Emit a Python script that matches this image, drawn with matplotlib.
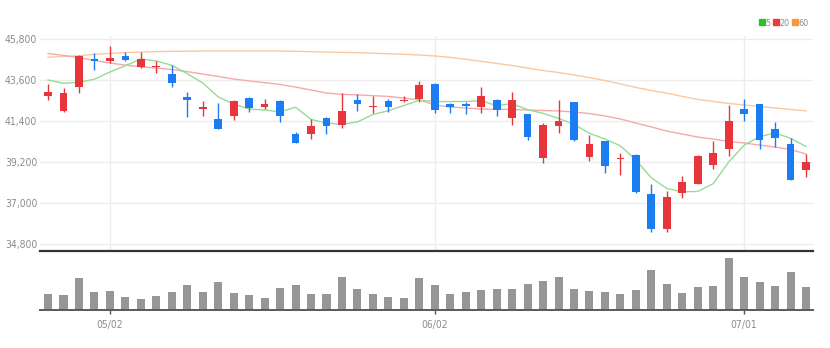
import numpy as np
import matplotlib
matplotlib.use("Agg")
import matplotlib.pyplot as plt
from matplotlib import font_manager
from matplotlib.lines import Line2D

# prefer a narrow face for the axis labels when one is available
installed = {f.name for f in font_manager.fontManager.ttflist}
narrow = [n for n in ['Liberation Sans Narrow', 'DejaVu Sans Condensed'] if n in installed]
plt.rcParams['font.family'] = narrow + ['DejaVu Sans']
if not narrow:
    plt.rcParams['font.stretch'] = 'condensed'

# daily candles (KRW)
dates = ['04/26', '04/27', '04/28', '04/29', '05/02', '05/03', '05/04', '05/06', '05/09', '05/10',
         '05/11', '05/12', '05/13', '05/16', '05/17', '05/18', '05/19', '05/20', '05/23', '05/24',
         '05/25', '05/26', '05/27', '05/30', '05/31', '06/02', '06/03', '06/07', '06/08', '06/09',
         '06/10', '06/13', '06/14', '06/15', '06/16', '06/17', '06/20', '06/21', '06/22', '06/23',
         '06/24', '06/27', '06/28', '06/29', '06/30', '07/01', '07/04', '07/05', '07/06', '07/07']
opens = [42750, 41950, 43250, 44700, 44600, 44900, 44300, 44300, 43900, 42700,
         42050, 41500, 41650, 42650, 42150, 42450, 40700, 40700, 41550, 41200,
         42550, 42150, 42450, 42450, 42600, 43400, 42300, 42300, 42150, 42550,
         41550, 41750, 39400, 41150, 42400, 39450, 40350, 39350, 39550, 37500,
         35600, 37550, 38000, 39050, 39900, 42050, 42300, 40950, 40150, 38750]
highs = [43400, 43150, 44950, 45050, 45400, 45100, 45100, 44600, 44400, 42950,
         42450, 42350, 42550, 42700, 42600, 42500, 40800, 41500, 41600, 42900,
         42850, 42750, 42600, 42750, 43550, 43450, 42350, 42400, 43200, 42600,
         42950, 41800, 41300, 42550, 42400, 40650, 40350, 39700, 39650, 38000,
         37650, 38450, 39550, 40350, 42250, 42600, 42300, 41350, 40500, 39650]
lows = [42550, 41900, 42900, 44150, 44500, 44600, 44250, 43950, 43250, 41600,
        41650, 40950, 41450, 41900, 42050, 41350, 40200, 40450, 40700, 41050,
        41950, 41850, 41900, 42400, 42400, 41850, 41850, 41800, 41850, 41650,
        41200, 40400, 39150, 40750, 40300, 39250, 38600, 38500, 37550, 35450,
        35450, 37250, 38000, 38800, 39500, 41400, 39900, 40000, 38250, 38400]
closes = [42950, 42900, 44900, 44600, 44800, 44650, 44700, 44350, 43450, 42550,
          42150, 40950, 42450, 42100, 42300, 41650, 40200, 41150, 41150, 41950,
          42300, 42200, 42150, 42550, 43350, 42000, 42150, 42200, 42750, 42000,
          42550, 40550, 41200, 41400, 40400, 40150, 39000, 39400, 37600, 35600,
          37300, 38100, 39500, 39700, 41400, 41800, 40400, 40500, 38250, 39200]
volumes = [160, 150, 317, 183, 190, 133, 110, 143, 183, 250,
           177, 283, 170, 153, 120, 217, 250, 160, 160, 327,
           207, 160, 133, 123, 317, 250, 160, 183, 200, 207,
           207, 257, 287, 327, 207, 190, 183, 160, 200, 397,
           257, 173, 233, 240, 523, 333, 280, 237, 380, 230]

# moving averages
ma5 = [43600, 43420, 43480, 43640, 44030, 44370, 44730, 44620, 44390, 43940,
       43440, 42690, 42310, 42040, 41990, 41890, 42140, 41480, 41290, 41220,
       41350, 41750, 41950, 42230, 42510, 42450, 42440, 42450, 42490, 42220,
       42330, 42010, 41810, 41540, 41220, 40740, 40430, 40070, 39310, 38350,
       37780, 37600, 37620, 38040, 39200, 40100, 40560, 40760, 40470, 40030]
ma20 = [45020, 44920, 44800, 44650, 44510, 44400, 44310, 44240, 44160, 44050,
        43920, 43790, 43650, 43550, 43460, 43360, 43220, 43060, 42900, 42830,
        42800, 42760, 42720, 42630, 42530, 42260, 42150, 42100, 42040, 42030,
        42020, 41990, 41960, 41940, 41880, 41800, 41670, 41510, 41290, 41080,
        40860, 40700, 40540, 40430, 40300, 40220, 40110, 40000, 39870, 39630]
ma60 = [44820, 44860, 44900, 44980, 45030, 45070, 45100, 45120, 45140, 45145,
        45155, 45155, 45155, 45155, 45155, 45155, 45140, 45120, 45100, 45085,
        45065, 45040, 45010, 44980, 44940, 44890, 44810, 44710, 44600, 44490,
        44380, 44240, 44110, 44000, 43870, 43730, 43570, 43390, 43200, 43040,
        42890, 42720, 42560, 42450, 42340, 42260, 42180, 42100, 42020, 41940]

price_ticks = [34800, 37000, 39200, 41400, 43600, 45800]
tick_dates = ['05/02', '06/02', '07/01']

UP = '#e8353b'
DOWN = '#1c7cf2'
GRID = '#ededed'
LABEL = '#8c8c8c'

x = np.arange(len(dates))
o = np.array(opens)
c = np.array(closes)
colors = [UP if cc >= oo else DOWN for oo, cc in zip(o, c)]
body_low = np.minimum(o, c)
body_h = np.maximum(np.abs(c - o), 60)
xticks = [dates.index(d) for d in tick_dates]

fig = plt.figure(figsize=(8.3, 3.48), dpi=100)
ax = fig.add_axes([40 / 830, 97.5 / 348, 773 / 830, 214.5 / 348])
axv = fig.add_axes([40 / 830, 38 / 348, 773 / 830, 55 / 348])

# price panel
for t in price_ticks:
    ax.axhline(t, color=GRID, lw=1.0, zorder=0)
for xt in xticks:
    ax.axvline(xt, color=GRID, lw=1.0, zorder=0)

ax.plot(x, ma60, color='#fac9a0', lw=1.0, zorder=1)
ax.plot(x, ma20, color='#f6a9ac', lw=1.0, zorder=1)
ax.plot(x, ma5, color='#97db97', lw=1.0, zorder=1)

ax.vlines(x, lows, highs, colors=colors, lw=1.0, zorder=2)
ax.bar(x, body_h, bottom=body_low, width=0.5, color=colors, zorder=3)

ax.set_xlim(-0.52, 49.45)
ax.set_ylim(34451, 45961)
ax.set_yticks(price_ticks)
ax.set_yticklabels([f"{t:,}" for t in price_ticks])
ax.set_xticks([])
ax.tick_params(axis='y', length=0, pad=2, labelsize=7.5, labelcolor=LABEL)
for s in ['top', 'right', 'left']:
    ax.spines[s].set_visible(False)
ax.spines['bottom'].set_color('#333333')
ax.spines['bottom'].set_linewidth(1.6)

# volume panel
axv.bar(x, volumes, width=0.52, color='#969696', zorder=2)
axv.set_xlim(-0.52, 49.45)
axv.set_ylim(0, 550)
axv.set_yticks([])
axv.set_xticks(xticks)
axv.set_xticklabels(tick_dates)
axv.tick_params(axis='x', length=3, width=1, color='#555555', pad=4,
                labelsize=7.5, labelcolor=LABEL)
for s in ['top', 'right', 'left']:
    axv.spines[s].set_visible(False)
axv.spines['bottom'].set_color('#5a5a5a')
axv.spines['bottom'].set_linewidth(1.4)

# legend for the moving averages
handles = [Line2D([], [], ls='none', marker='s', ms=4, color=col)
           for col in ['#2ec02e', '#ee3a3a', '#f59a3c']]
fig.legend(handles, ['5', '20', '60'], loc='center right',
           bbox_to_anchor=(813 / 830, 1 - 23 / 348), ncol=3, frameon=False,
           handlelength=0.5, handletextpad=0.1, columnspacing=0.4,
           fontsize=6.5, labelcolor=LABEL, borderpad=0)

fig.savefig('out.png', dpi=100, facecolor='white')
